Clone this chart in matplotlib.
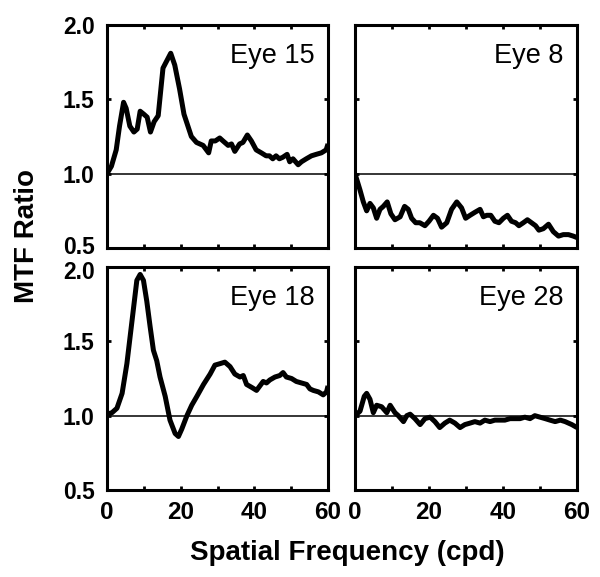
import matplotlib
matplotlib.use("Agg")
import matplotlib.pyplot as plt
from matplotlib.transforms import ScaledTranslation

plt.rcParams['font.family'] = ['Liberation Sans', 'DejaVu Sans']

# Eye 15
x15 = [0, 1.2, 2.5, 3.4, 4.5, 5.2, 6.2, 7.3, 8.2, 9.0, 10.0, 10.9, 11.8, 12.8, 13.9, 15.2, 17.3, 18.4,
       19.7, 20.9, 22.9, 24.3, 26.1, 27.6, 28.3, 29.4, 30.6, 31.5, 32.9, 33.8, 34.7, 36.0, 36.9, 38.1,
       39.2, 40.5, 41.9, 43.2, 44.1, 45.0, 45.9, 46.8, 47.7, 48.9, 49.6, 50.5, 51.9, 52.8, 54.1, 55.5,
       56.8, 58.2, 59.5, 60]
y15 = [1.0, 1.05, 1.16, 1.32, 1.48, 1.44, 1.32, 1.28, 1.30, 1.42, 1.40, 1.38, 1.28, 1.35, 1.39, 1.71, 1.81, 1.73,
       1.57, 1.40, 1.25, 1.21, 1.19, 1.14, 1.22, 1.22, 1.24, 1.22, 1.19, 1.20, 1.15, 1.20, 1.21, 1.26,
       1.22, 1.16, 1.14, 1.12, 1.12, 1.10, 1.12, 1.10, 1.11, 1.13, 1.08, 1.10, 1.06, 1.08, 1.10, 1.12,
       1.13, 1.14, 1.16, 1.20]

# Eye 8
x8 = [0, 1.35, 2.25, 3.15, 4.05, 4.95, 5.85, 6.75, 7.65, 8.7, 9.7, 10.8, 12.2, 13.4, 14.4, 15.3, 16.4, 17.5,
      18.9, 20.0, 21.2, 22.3, 23.4, 24.8, 26.1, 27.5, 28.8, 29.9, 31.1, 32.4, 33.8, 34.7, 35.6, 36.7, 37.8,
      38.9, 40.1, 41.2, 42.3, 43.4, 44.3, 45.5, 46.6, 47.7, 48.8, 49.7, 50.9, 52.3, 53.6, 55.0, 56.3, 57.7,
      59.0, 60]
y8 = [1.0, 0.89, 0.81, 0.75, 0.80, 0.77, 0.70, 0.76, 0.78, 0.81, 0.73, 0.69, 0.71, 0.78, 0.76, 0.70, 0.67, 0.67,
      0.65, 0.68, 0.72, 0.70, 0.64, 0.67, 0.76, 0.81, 0.77, 0.70, 0.72, 0.74, 0.76, 0.71, 0.72, 0.72, 0.68,
      0.67, 0.70, 0.72, 0.68, 0.67, 0.65, 0.67, 0.69, 0.67, 0.65, 0.62, 0.63, 0.66, 0.61, 0.58, 0.59, 0.59,
      0.58, 0.57]

# Eye 18
x18 = [0, 1.35, 2.7, 4.1, 5.4, 6.8, 8.1, 9.0, 9.9, 10.8, 11.7, 12.6, 13.5, 14.4, 15.8, 17.1, 18.5, 19.4,
       20.3, 21.7, 23.0, 24.4, 26.2, 28.0, 29.3, 30.7, 32.0, 33.4, 34.7, 36.1, 37.0, 37.9, 39.3, 40.6,
       41.5, 42.4, 43.3, 44.2, 45.6, 46.9, 47.8, 48.7, 50.1, 51.4, 52.8, 54.2, 55.1, 56.0, 57.4, 58.7,
       59.6, 60]
y18 = [1.01, 1.02, 1.05, 1.15, 1.35, 1.64, 1.91, 1.95, 1.91, 1.77, 1.60, 1.44, 1.37, 1.26, 1.13, 0.97, 0.88, 0.86,
       0.91, 1.00, 1.07, 1.13, 1.21, 1.28, 1.34, 1.35, 1.36, 1.33, 1.28, 1.26, 1.27, 1.21, 1.19, 1.17,
       1.20, 1.23, 1.22, 1.24, 1.26, 1.27, 1.29, 1.26, 1.25, 1.23, 1.22, 1.21, 1.18, 1.17, 1.16, 1.14,
       1.16, 1.20]

# Eye 28
x28 = [0, 1.35, 2.5, 3.15, 4.05, 4.95, 5.85, 7.2, 8.6, 9.5, 10.8, 11.7, 13.1, 14.0, 14.9, 16.2, 17.6, 18.9,
       20.3, 21.6, 22.9, 24.3, 25.6, 27.0, 28.4, 29.7, 31.1, 32.4, 33.8, 35.1, 36.5, 37.8, 39.2, 40.5,
       41.9, 43.2, 44.6, 45.9, 47.3, 48.6, 50.0, 51.4, 52.7, 54.1, 55.5, 56.8, 58.6, 60]
y28 = [1.0, 1.03, 1.13, 1.15, 1.11, 1.02, 1.07, 1.06, 1.02, 1.07, 1.02, 1.00, 0.96, 1.00, 1.01, 0.98, 0.94, 0.98,
       0.99, 0.96, 0.92, 0.95, 0.97, 0.95, 0.92, 0.94, 0.95, 0.96, 0.95, 0.97, 0.96, 0.97, 0.97, 0.97,
       0.98, 0.98, 0.98, 0.99, 0.98, 1.00, 0.99, 0.98, 0.97, 0.96, 0.97, 0.96, 0.94, 0.92]

labels = ["Eye 15", "Eye 8", "Eye 18", "Eye 28"]
xticks = [0, 10, 20, 30, 40, 50, 60]
xticklabels = ["0", "", "20", "", "40", "", "60"]
yticks = [0.5, 1.0, 1.5, 2.0]
yticklabels = ["0.5", "1.0", "1.5", "2.0"]

W, H = 600, 577
fig = plt.figure(figsize=(6, 5.77), dpi=100)

boxes = [(107, 25, 328, 248), (355, 25, 577, 248), (107, 267, 328, 490), (355, 267, 577, 490)]
data = [(x15, y15), (x8, y8), (x18, y18), (x28, y28)]

for i, ((l, t, r, b), (xs, ys), lab) in enumerate(zip(boxes, data, labels)):
    ax = fig.add_axes([l / W, 1 - b / H, (r - l) / W, (b - t) / H])
    ax.plot(xs, ys, color='black', lw=3.6, solid_joinstyle='round', solid_capstyle='butt', zorder=3)
    ax.axhline(1.0, color='black', lw=1.1, zorder=2)
    ax.set_xlim(0, 60)
    ax.set_ylim(0.5, 2.0)
    ax.set_xticks(xticks)
    ax.set_yticks(yticks)
    for s in ax.spines.values():
        s.set_linewidth(2.2)
    ax.tick_params(direction='in', length=3, width=2, top=True, right=True)
    ax.tick_params(axis='y', pad=9)
    ax.tick_params(axis='x', pad=8)
    col = i % 2
    row = i // 2
    if col == 0:
        tl = ax.set_yticklabels(yticklabels, fontsize=16.5, fontweight='bold')
        if row == 0:
            lab_ = tl[0]
            lab_.set_transform(lab_.get_transform() + ScaledTranslation(0, 2 / 72, fig.dpi_scale_trans))
        else:
            lab_ = tl[-1]
            lab_.set_transform(lab_.get_transform() + ScaledTranslation(0, -2 / 72, fig.dpi_scale_trans))
    else:
        ax.set_yticklabels([])
    if row == 1:
        ax.set_xticklabels(xticklabels, fontsize=17.5, fontweight='bold')
    else:
        ax.set_xticklabels([])
    ax.text(0.94, 0.86, lab, transform=ax.transAxes, ha='right', va='center', fontsize=19.5)

fig.text(27 / W, 1 - 236 / H, "MTF Ratio", rotation=90, ha='center', va='center',
         fontsize=20, fontweight='bold')
fig.text(347 / W, 1 - 553 / H, "Spatial Frequency (cpd)", ha='center', va='center',
         fontsize=20, fontweight='bold')

fig.savefig("out.png", dpi=100)
